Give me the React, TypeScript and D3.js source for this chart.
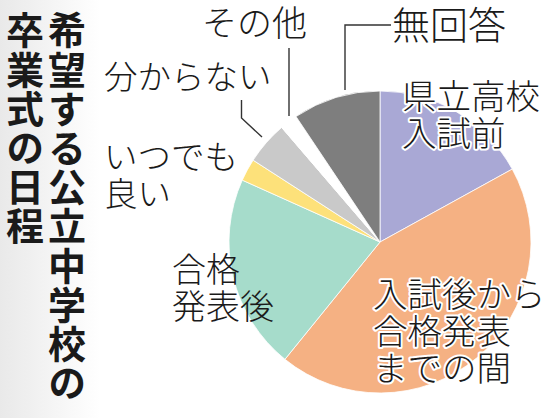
import React, { useEffect, useRef } from "react";
import * as d3 from "d3";

const categories = [
  "県立高校入試前",
  "入試後から合格発表までの間",
  "合格発表後",
  "いつでも良い",
  "分からない",
  "その他",
  "無回答",
];
const values = [17.0, 43.9, 20.9, 2.4, 4.6, 1.9, 9.4];
const colors = ["#a9a8d5", "#f5b183", "#a6dccb", "#fde17a", "#c9c9c9", "#ffffff", "#7e7e7e"];
const labelLines = [
  ["県立高校", "入試前"],
  ["入試後から", "合格発表", "までの間"],
  ["合格", "発表後"],
  ["いつでも", "良い"],
  ["分からない"],
  ["その他"],
  ["無回答"],
];
const titleColumns = ["希望する公立中学校の", "卒業式の日程"];

const W = 545;
const H = 418;

export default function App() {
  const ref = useRef<SVGSVGElement | null>(null);

  useEffect(() => {
    document.body.style.margin = "0";
    const svg = d3.select(ref.current);
    svg.selectAll("*").remove();

    const defs = svg.append("defs");
    const grad = defs
      .append("linearGradient")
      .attr("id", "bgGrad")
      .attr("x1", "0")
      .attr("x2", "1")
      .attr("y1", "0")
      .attr("y2", "0");
    grad.append("stop").attr("offset", "0").attr("stop-color", "#e9e9e9");
    grad.append("stop").attr("offset", "1").attr("stop-color", "#ffffff");

    svg.append("rect").attr("width", W).attr("height", H).attr("fill", "#ffffff");
    svg.append("rect").attr("x", 0).attr("y", 0).attr("width", 100).attr("height", H).attr("fill", "url(#bgGrad)");

    const font = "'Noto Sans CJK JP', 'Noto Sans', sans-serif";

    // Title (vertical)
    const titleX = [67, 25];
    titleColumns.forEach((t, i) => {
      svg
        .append("text")
        .attr("x", titleX[i])
        .attr("y", 11)
        .attr("font-family", font)
        .attr("font-weight", 700)
        .attr("font-size", 38)
        .attr("fill", "#1a1a1a")
        .style("writing-mode", "vertical-rl")
        .style("text-orientation", "upright")
        .style("letter-spacing", "1.2px")
        .text(t);
    });

    // Pie
    const cx = 380;
    const cy = 242;
    const r = 151;
    const pie = d3
      .pie<number>()
      .sort(null)
      .value((d) => d);
    const arcs = pie(values);
    const arcGen = d3.arc<d3.PieArcDatum<number>>().innerRadius(0).outerRadius(r);
    const g = svg.append("g").attr("transform", `translate(${cx},${cy})`);
    g.selectAll("path")
      .data(arcs)
      .enter()
      .append("path")
      .attr("d", (d) => arcGen(d) as string)
      .attr("fill", (_d, i) => colors[i])
      .attr("stroke", "#ffffff")
      .attr("stroke-width", 0.8);

    // Leader lines
    const leaders: [number, number][][] = [
      [
        [391, 25],
        [345, 25],
        [345, 90],
      ],
      [
        [289, 48],
        [289, 116],
      ],
      [
        [241.5, 100],
        [241.5, 118],
        [262, 137],
      ],
    ];
    const line = d3.line();
    leaders.forEach((pts) => {
      svg
        .append("path")
        .attr("d", line(pts) as string)
        .attr("fill", "none")
        .attr("stroke", "#333333")
        .attr("stroke-width", 1.4);
    });

    // Labels
    const labelPos: { x: number; y: number; size: number; halo: boolean }[] = [
      { x: 402, y: 109, size: 34.5, halo: true },
      { x: 373, y: 307, size: 34.5, halo: true },
      { x: 172, y: 282, size: 34, halo: false },
      { x: 104, y: 169, size: 33.5, halo: false },
      { x: 104, y: 89, size: 33.5, halo: false },
      { x: 202, y: 36, size: 35, halo: false },
      { x: 392, y: 39, size: 38, halo: false },
    ];
    const lineH = 37;
    labelLines.forEach((lines, i) => {
      const p = labelPos[i];
      const t = svg
        .append("text")
        .attr("font-family", font)
        .attr("font-weight", 300)
        .attr("font-size", p.size)
        .attr("fill", "#1a1a1a");
      if (p.halo) {
        t.attr("stroke", "#ffffff")
          .attr("stroke-width", 4)
          .attr("stroke-linejoin", "round")
          .style("paint-order", "stroke");
      }
      lines.forEach((ln, j) => {
        t.append("tspan")
          .attr("x", p.x)
          .attr("y", p.y + j * lineH)
          .text(ln);
      });
    });
  }, []);

  return <svg ref={ref} width={W} height={H} style={{ display: "block" }} />;
}
